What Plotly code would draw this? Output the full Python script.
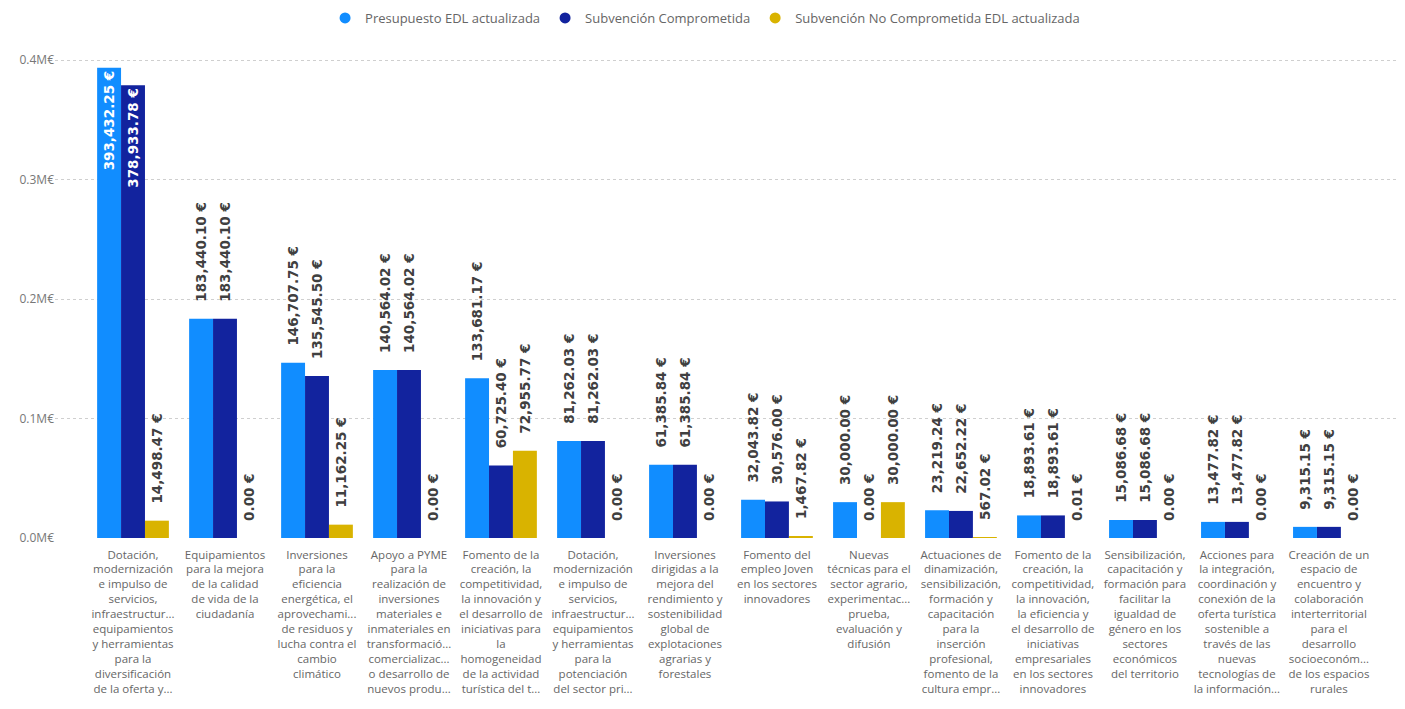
import plotly.graph_objects as go

categories = [
    "Dotación,<br>modernización<br>e impulso de<br>servicios,<br>infraestructur...<br>equipamientos<br>y herramientas<br>para la<br>diversificación<br>de la oferta y...",
    "Equipamientos<br>para la mejora<br>de la calidad<br>de vida de la<br>ciudadanía",
    "Inversiones<br>para la<br>eficiencia<br>energética, el<br>aprovechami...<br>de residuos y<br>lucha contra el<br>cambio<br>climático",
    "Apoyo a PYME<br>para la<br>realización de<br>inversiones<br>materiales e<br>inmateriales en<br>transformació...<br>comercializac...<br>o desarrollo de<br>nuevos produ...",
    "Fomento de la<br>creación, la<br>competitividad,<br>la innovación y<br>el desarrollo de<br>iniciativas para<br>la<br>homogeneidad<br>de la actividad<br>turística del t...",
    "Dotación,<br>modernización<br>e impulso de<br>servicios,<br>infraestructur...<br>equipamientos<br>y herramientas<br>para la<br>potenciación<br>del sector pri...",
    "Inversiones<br>dirigidas a la<br>mejora del<br>rendimiento y<br>sostenibilidad<br>global de<br>explotaciones<br>agrarias y<br>forestales",
    "Fomento del<br>empleo Joven<br>en los sectores<br>innovadores",
    "Nuevas<br>técnicas para el<br>sector agrario,<br>experimentac...<br>prueba,<br>evaluación y<br>difusión",
    "Actuaciones de<br>dinamización,<br>sensibilización,<br>formación y<br>capacitación<br>para la<br>inserción<br>profesional,<br>fomento de la<br>cultura empr...",
    "Fomento de la<br>creación, la<br>competitividad,<br>la innovación,<br>la eficiencia y<br>el desarrollo de<br>iniciativas<br>empresariales<br>en los sectores<br>innovadores",
    "Sensibilización,<br>capacitación y<br>formación para<br>facilitar la<br>igualdad de<br>género en los<br>sectores<br>económicos<br>del territorio",
    "Acciones para<br>la integración,<br>coordinación y<br>conexión de la<br>oferta turística<br>sostenible a<br>través de las<br>nuevas<br>tecnologías de<br>la información...",
    "Creación de un<br>espacio de<br>encuentro y<br>colaboración<br>interterritorial<br>para el<br>desarrollo<br>socioeconóm...<br>de los espacios<br>rurales",
]

presupuesto = [393432.25, 183440.10, 146707.75, 140564.02, 133681.17, 81262.03, 61385.84,
               32043.82, 30000.00, 23219.24, 18893.61, 15086.68, 13477.82, 9315.15]
comprometida = [378933.78, 183440.10, 135545.50, 140564.02, 60725.40, 81262.03, 61385.84,
                30576.00, 0.00, 22652.22, 18893.61, 15086.68, 13477.82, 9315.15]
no_comprometida = [14498.47, 0.00, 11162.25, 0.00, 72955.77, 0.00, 0.00,
                   1467.82, 30000.00, 567.02, 0.01, 0.00, 0.00, 0.00]

series_names = ["Presupuesto EDL actualizada", "Subvención Comprometida",
                "Subvención No Comprometida EDL actualizada"]
colors = ["#118DFF", "#12239E", "#D9B300"]

y_tickvals = [0, 100000, 200000, 300000, 400000]
y_ticktext = ["0.0M€", "0.1M€", "0.2M€", "0.3M€", "0.4M€"]

x_idx = list(range(len(categories)))

NBSP = "\u00a0"


def fmt(v, outside):
    s = f"{v:,.2f} €"
    return (NBSP * 3 + s) if outside else s


fig = go.Figure()
all_series = [presupuesto, comprometida, no_comprometida]
for name, vals, col in zip(series_names, all_series, colors):
    texts, positions, tcolors = [], [], []
    for v in vals:
        inside = v > 300000
        texts.append(fmt(v, not inside))
        positions.append("inside" if inside else "outside")
        tcolors.append("white" if inside else "#404040")
    fig.add_trace(go.Bar(
        x=x_idx, y=vals, name=name, marker=dict(color=col, line=dict(width=0)),
        text=texts, textposition=positions, textangle=-90,
        insidetextanchor="end", constraintext="none", cliponaxis=False,
        textfont=dict(family="DejaVu Sans", size=13.5, color=tcolors, weight="bold"),
        showlegend=False, hoverinfo="skip",
    ))

for name, col in zip(series_names, colors):
    fig.add_trace(go.Scatter(
        x=[None], y=[None], mode="markers", name=name,
        marker=dict(color=col, size=11, symbol="circle"),
    ))

fig.update_layout(
    width=1389, height=693,
    margin=dict(l=47, r=0, t=47, b=163, autoexpand=False),
    paper_bgcolor="white", plot_bgcolor="white",
    barmode="group", bargap=0.22, bargroupgap=0,
    font=dict(family="Open Sans", color="#666666"),
    legend=dict(orientation="h", x=0.4844, xanchor="center", y=0.9856, yanchor="middle",
                yref="container", font=dict(size=13, color="#666666"),
                itemwidth=30, tracegroupgap=0),
    showlegend=True,
)

fig.update_xaxes(
    tickmode="array", tickvals=x_idx, ticktext=categories, tickangle=0,
    range=[-0.848, 13.74], showgrid=False, zeroline=False, showline=False,
    tickfont=dict(size=11.5, color="#666666", family="Open Sans"),
    automargin=False, ticks="", ticklabelstandoff=8,
)
fig.update_yaxes(
    range=[0, 404184], tickmode="array", tickvals=y_tickvals, ticktext=y_ticktext,
    showgrid=True, gridcolor="#CFCFCF", griddash="dot", gridwidth=1,
    zeroline=False, showline=False, automargin=False, ticks="",
    tickfont=dict(size=12, color="#777777", family="Open Sans"),
)

fig.write_html("out.html")
